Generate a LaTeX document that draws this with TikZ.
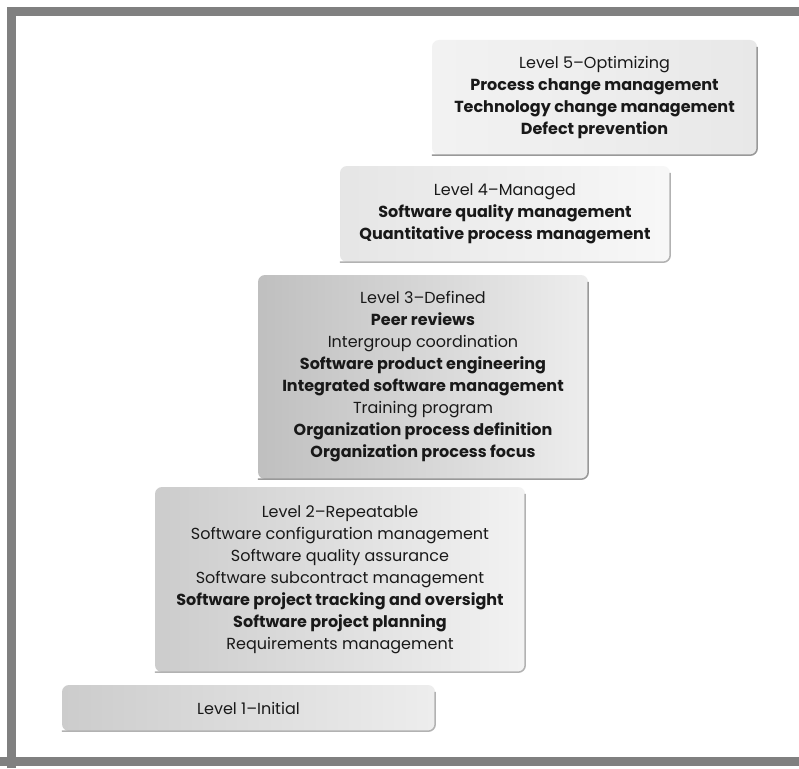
\documentclass[tikz,border=0pt]{standalone}
\usepackage{fontspec}
\setmainfont{Poppins}
\usetikzlibrary{positioning}
\tikzstyle{levelbox} = [rectangle, rounded corners=7pt, align=center, inner sep=0pt, text=black!90, font=\fontsize{16}{22}\selectfont]
\tikzstyle{rim} = [draw=black!40, line width=1.5pt, rounded corners=7pt]
\tikzstyle{frame} = [draw=black!50, line width=9pt]

\begin{document}
\begin{tikzpicture}[x=1pt, y=-1pt]
\useasboundingbox (0,0) rectangle (799,768);
\fill[white] (0,0) rectangle (799,768);

% outer frame
\draw[frame] (11.5,768) -- (11.5,11.5) -- (799,11.5);
\draw[frame] (0,761.5) -- (799,761.5);

\node (l5) [levelbox, left color=black!5, right color=black!9, minimum width=325pt, minimum height=115pt] at (594.5,97.5)
  {Level 5--Optimizing\\ \textbf{Process change management}\\ \textbf{Technology change management}\\ \textbf{Defect prevention}};
\node (l4) [levelbox, left color=black!10, right color=black!3, minimum width=330pt, minimum height=96pt] at (505,214)
  {Level 4--Managed\\ \textbf{Software quality management}\\ \textbf{Quantitative process management}};
\node (l3) [levelbox, left color=black!25, right color=black!7, minimum width=330pt, minimum height=204pt] at (423,377)
  {Level 3--Defined\\ \textbf{Peer reviews}\\ Intergroup coordination\\ \textbf{Software product engineering}\\ \textbf{Integrated software management}\\ Training program\\ \textbf{Organization process definition}\\ \textbf{Organization process focus}};
\node (l2) [levelbox, left color=black!20, right color=black!5, minimum width=370pt, minimum height=185pt] at (340,579.5)
  {Level 2--Repeatable\\ Software configuration management\\ Software quality assurance\\ Software subcontract management\\ \textbf{Software project tracking and oversight}\\ \textbf{Software project planning}\\ Requirements management};
\node (l1) [levelbox, left color=black!20, right color=black!7, minimum width=373pt, minimum height=46pt] at (248.5,708)
  {Level 1--Initial};

% shadow edges
\draw[rim] ([yshift=-7pt]l5.north east) -- (l5.south east) -- (l5.south west);
\draw[rim, draw=black!30] ([yshift=-7pt]l4.north east) -- (l4.south east) -- (l4.south west);
\draw[rim] ([yshift=-7pt]l3.north east) -- (l3.south east) -- (l3.south west);
\draw[rim, draw=black!30] ([yshift=-7pt]l2.north east) -- (l2.south east) -- (l2.south west);
\draw[rim, draw=black!30] ([yshift=-7pt]l1.north east) -- (l1.south east) -- (l1.south west);

\end{tikzpicture}
\end{document}
